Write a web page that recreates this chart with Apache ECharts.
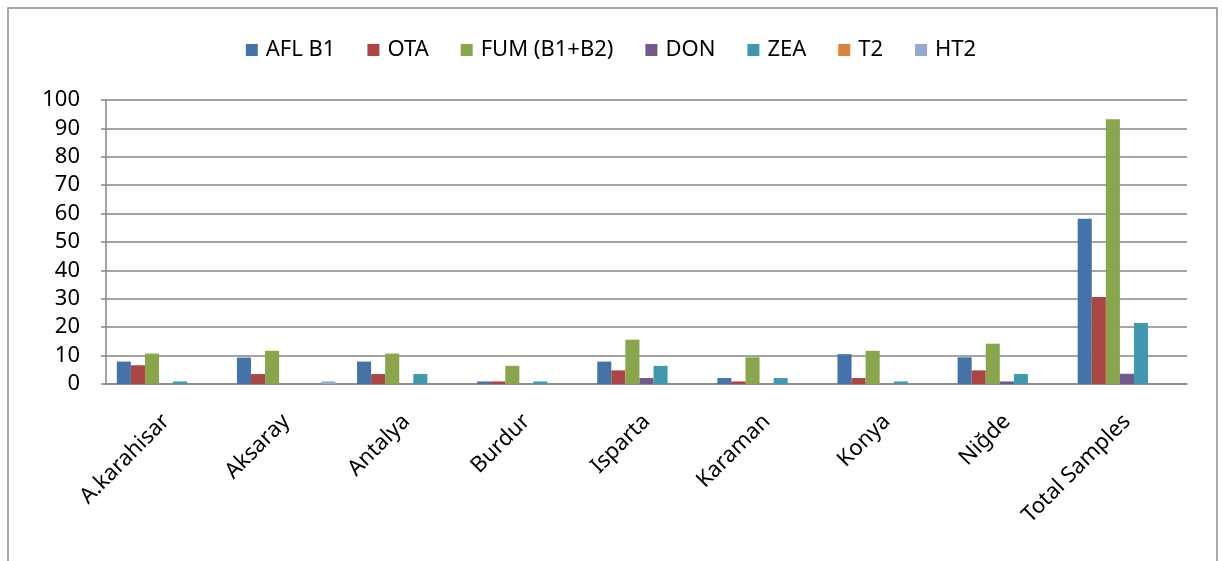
<!DOCTYPE html>
<html>
<head>
<meta charset="utf-8">
<script src="https://cdn.jsdelivr.net/npm/echarts@6/dist/echarts.min.js"></script>
<style>
  html, body { margin: 0; padding: 0; background: #fff; }
  #chart { width: 1222px; height: 561px; }
</style>
</head>
<body>
<div id="chart"></div>
<script>
const categories = ["A.karahisar", "Aksaray", "Antalya", "Burdur", "Isparta", "Karaman", "Konya", "Niğde", "Total Samples"];
const aflB1 = [7.9, 9.3, 7.9, 0.9, 7.9, 2.1, 10.5, 9.4, 58.2];
const ota = [6.6, 3.5, 3.5, 0.9, 4.8, 0.9, 2.1, 4.8, 30.6];
const fum = [10.7, 11.7, 10.7, 6.4, 15.6, 9.4, 11.7, 14.2, 93.2];
const don = [0, 0, 0, 0, 2.1, 0, 0, 0.9, 3.6];
const zea = [0.9, 0, 3.5, 0.9, 6.4, 2.1, 0.9, 3.5, 21.5];
const t2 = [0, 0, 0, 0, 0, 0, 0, 0, 0];
const ht2 = [0, 0.9, 0, 0, 0, 0, 0, 0, 0];
const yTicks = [0, 100, 10]; // min, max, step

const seriesDefs = [
  { name: "AFL B1", data: aflB1, color: "#4572A7" },
  { name: "OTA", data: ota, color: "#AA4643" },
  { name: "FUM (B1+B2)", data: fum, color: "#89A54E" },
  { name: "DON", data: don, color: "#71588F" },
  { name: "ZEA", data: zea, color: "#4198AF" },
  { name: "T2", data: t2, color: "#DB843D" },
  { name: "HT2", data: ht2, color: "#93A9CF" },
];

const font = "Noto Sans";
const chart = echarts.init(document.getElementById("chart"));

const option = {
  animation: false,
  textStyle: { fontFamily: font },
  graphic: [
    {
      type: "rect",
      shape: { x: 8, y: 8, width: 1209, height: 600 },
      style: { fill: "none", stroke: "#8c8c8c", lineWidth: 1.5 },
      silent: true,
    },
  ],
  legend: {
    top: 34,
    left: "center",
    icon: "rect",
    itemWidth: 12,
    itemHeight: 12,
    itemGap: 32,
    textStyle: { fontSize: 22, color: "#000", fontFamily: font, padding: [0, 0, 0, 3] },
    data: seriesDefs.map(s => s.name),
  },
  grid: { left: 106, right: 35, top: 100, bottom: 177 },
  xAxis: {
    type: "category",
    data: categories,
    axisLine: { lineStyle: { color: "#868686", width: 1.5 } },
    axisTick: { length: 11, lineStyle: { color: "#868686", width: 1.5 } },
    axisLabel: { rotate: 45, fontSize: 22, color: "#000", margin: 34, interval: 0, fontFamily: font },
  },
  yAxis: {
    type: "value",
    min: yTicks[0],
    max: yTicks[1],
    interval: yTicks[2],
    axisLine: { show: true, lineStyle: { color: "#868686", width: 1.5 } },
    axisTick: { show: true, length: 5, lineStyle: { color: "#868686", width: 1.5 } },
    axisLabel: { fontSize: 22, color: "#000", margin: 26, fontFamily: font },
    splitLine: { lineStyle: { color: "#868686", width: 1.5 } },
  },
  series: seriesDefs.map(s => ({
    name: s.name,
    type: "bar",
    data: s.data,
    barGap: "0%",
    barCategoryGap: "18%",
    itemStyle: { color: s.color },
  })),
};

chart.setOption(option);
window.addEventListener("resize", function () {
  chart.resize();
});
</script>
</body>
</html>
